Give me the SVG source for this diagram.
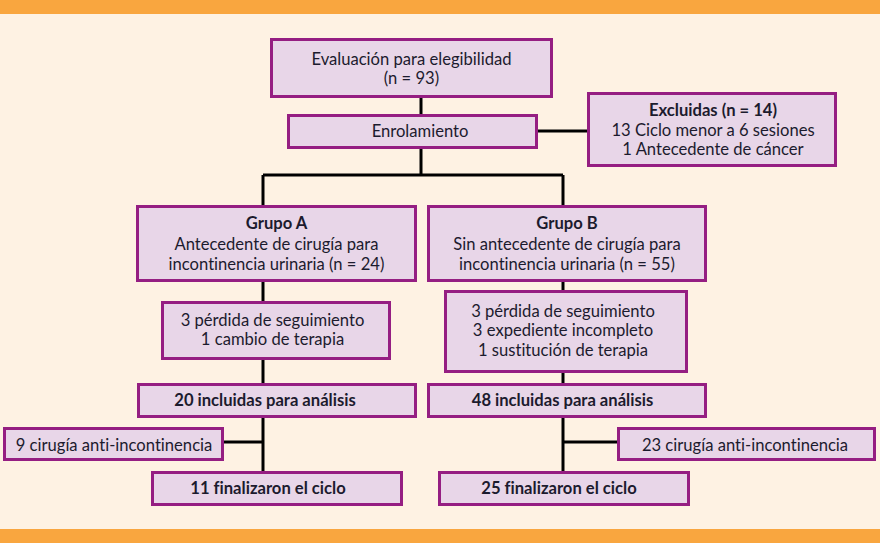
<svg xmlns="http://www.w3.org/2000/svg" width="880" height="543" viewBox="0 0 880 543">
<style>
.box{fill:#E8D6E8;stroke:#951E82;stroke-width:3}
.t{font-family:Lato,"Liberation Sans",sans-serif;font-size:16.6px;fill:#1C1B2E;text-anchor:middle;font-variant-ligatures:none}
.b{font-weight:bold}
.c{stroke:#000;stroke-width:3;fill:none}
</style>
<rect x="0" y="0" width="880" height="543" fill="#FEF2E3"/>
<rect x="0" y="0" width="880" height="14" fill="#F9A63F"/>
<rect x="0" y="529" width="880" height="14" fill="#F9A63F"/>
<g id="connectors">
<path class="c" d="M421,98V114M421,149V175M538,131H588M263,175H563M263,175V205M563,175V205M263,282V301M263,360V383M263,418V471M224,442H263M563,282V290M563,373V383M563,418V471M563,442H617"/>
</g>
<g id="eval"><rect class="box" x="271.5" y="39.5" width="280" height="57"/>
<text class="t" x="411.5" y="64.5">Evaluación para elegibilidad</text>
<text class="t" x="411.5" y="83.5">(n = 93)</text></g>
<g id="enrol"><rect class="box" x="288.5" y="115.5" width="248" height="32"/>
<text class="t" x="420" y="137">Enrolamiento</text></g>
<g id="excl"><rect class="box" x="588.5" y="93.5" width="247" height="72"/>
<text class="t b" x="713" y="115.5">Excluidas (n = 14)</text>
<text class="t" x="713" y="135.5">13 Ciclo menor a 6 sesiones</text>
<text class="t" x="713" y="155">1 Antecedente de cáncer</text></g>
<g id="grupoA"><rect class="box" x="137.5" y="206.5" width="278" height="74"/>
<text class="t b" x="276.5" y="229">Grupo A</text>
<text class="t" x="276.5" y="250">Antecedente de cirugía para</text>
<text class="t" x="276.5" y="270">incontinencia urinaria (n = 24)</text></g>
<g id="grupoB"><rect class="box" x="428.5" y="206.5" width="277" height="74"/>
<text class="t b" x="567" y="229">Grupo B</text>
<text class="t" x="567" y="250">Sin antecedente de cirugía para</text>
<text class="t" x="567" y="270">incontinencia urinaria (n = 55)</text></g>
<g id="perdA"><rect class="box" x="162.5" y="302.5" width="227" height="56"/>
<text class="t" x="272.5" y="326">3 pérdida de seguimiento</text>
<text class="t" x="272.5" y="345">1 cambio de terapia</text></g>
<g id="perdB"><rect class="box" x="445.5" y="291.5" width="241" height="80"/>
<text class="t" x="563" y="317">3 pérdida de seguimiento</text>
<text class="t" x="563" y="336">3 expediente incompleto</text>
<text class="t" x="563" y="356">1 sustitución de terapia</text></g>
<g id="inclA"><rect class="box" x="138.5" y="384.5" width="277" height="32"/>
<text class="t b" x="265" y="405.5">20 incluidas para análisis</text></g>
<g id="inclB"><rect class="box" x="428.5" y="384.5" width="277" height="32"/>
<text class="t b" x="562.5" y="405.5">48 incluidas para análisis</text></g>
<g id="cirA"><rect class="box" x="4.5" y="428.5" width="218" height="31"/>
<text class="t" x="114" y="451">9 cirugía anti-incontinencia</text></g>
<g id="cirB"><rect class="box" x="618.5" y="428.5" width="256" height="31"/>
<text class="t" x="745" y="451">23 cirugía anti-incontinencia</text></g>
<g id="finA"><rect class="box" x="152.5" y="472.5" width="249" height="32"/>
<text class="t b" x="268" y="494">11 finalizaron el ciclo</text></g>
<g id="finB"><rect class="box" x="439.5" y="472.5" width="249" height="32"/>
<text class="t b" x="559" y="494">25 finalizaron el ciclo</text></g>
</svg>
